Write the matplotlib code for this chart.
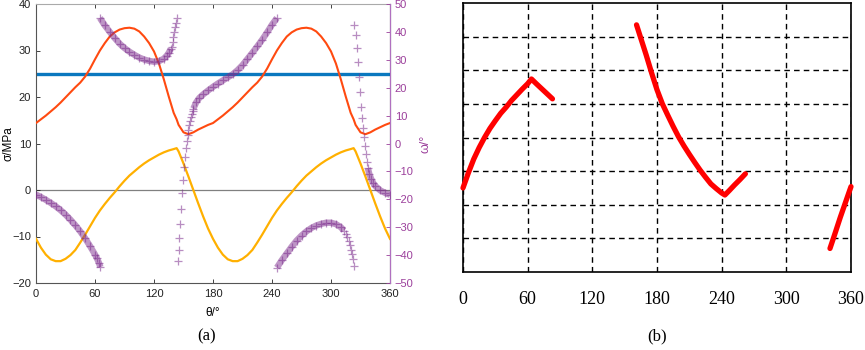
import numpy as np
import matplotlib
matplotlib.use("Agg")
import matplotlib.pyplot as plt

# ---- panel (a) data ----
theta_sig = (list(range(0, 141, 5)) + [143] + list(range(145, 321, 5)) + [323]
             + list(range(325, 361, 5)))

sig_half1 = [14.4, 15.2, 16.0, 16.9, 17.8, 18.8, 19.9, 21.0, 22.1, 23.1, 24.4, 26.1, 28.1,
             30.0, 31.6, 33.0, 33.9, 34.5, 34.8, 34.9, 34.7, 34.1, 33.0, 31.6, 29.8, 27.2,
             23.8, 20.1, 16.6]
sig_kink1 = [15.2]
sig_tail1 = [14.0, 12.4, 12.0, 12.4, 13.0, 13.5, 14.0, 14.4]
sigma1 = sig_half1 + sig_kink1 + sig_tail1 + sig_half1[1:] + sig_kink1 + sig_tail1

sig_half3 = [-10.5, -12.4, -13.9, -14.9, -15.3, -15.3, -14.8, -14.0, -12.9, -11.3, -9.6,
             -7.8, -6.0, -4.4, -3.0, -1.7, -0.5, 0.8, 2.0, 3.1, 4.0, 4.9, 5.7, 6.4, 7.0,
             7.6, 8.1, 8.5, 8.8]
sig_kink3 = [9.0]
sig_tail3 = [8.3, 5.7, 2.9, 0.0, -2.9, -5.7, -8.3, -10.5]
sigma3 = sig_half3 + sig_kink3 + sig_tail3 + sig_half3[1:] + sig_kink3 + sig_tail3

strength = 25.0

# omega segments: dense parts (band) and sparse parts (single markers)
om1_t = [0, 5, 10, 15, 20, 25, 30, 35, 40, 45, 50, 55, 60, 62, 64, 65.5]
om1_v = [-18.3, -19.2, -20.2, -21.3, -22.5, -23.9, -25.5, -27.3, -29.3, -31.5, -34.0,
         -36.8, -39.8, -41.2, -42.8, -44.3]

om2_t = [65, 70, 75, 80, 85, 90, 95, 100, 105, 110, 115, 120, 125, 130, 133, 135, 137]
om2_v = [45.0, 42.3, 40.0, 37.8, 35.8, 34.2, 32.9, 31.8, 30.8, 30.1, 29.6, 29.3, 29.5,
         30.4, 31.5, 32.5, 33.9]
om2s_t = [138, 139, 139.7, 140.7, 141.4, 142, 143]
om2s_v = [34.7, 36.5, 38.3, 40.1, 41.9, 43.3, 44.9]

om3s_t = [144.5, 145.1, 145.8, 146.5, 147.4, 148.4, 149.4, 150.4, 151.3, 152.3, 153.2,
          154.1, 155.0, 155.9, 156.8, 157.7, 158.6, 159.5]
om3s_v = [-42.1, -38.2, -34.0, -29.0, -23.6, -17.9, -13.1, -8.3, -4.7, -1.6, 0.8, 3.0,
          5.0, 6.6, 8.1, 9.5, 10.7, 11.8]
om3_t = [160, 163, 166, 170, 175, 180, 185, 190, 195, 200, 205, 210, 215, 220, 225, 230,
         235, 240, 245]
om3_v = [12.5, 14.8, 16.3, 17.6, 19.0, 20.3, 21.5, 22.6, 23.7, 24.8, 26.3, 28.1, 30.3,
         32.5, 34.8, 37.2, 39.8, 42.6, 45.0]

om4_t = [245, 250, 255, 260, 265, 270, 275, 280, 285, 290, 295, 300, 305, 310, 313]
om4_v = [-44.5, -41.8, -39.4, -37.0, -34.8, -33.0, -31.5, -30.3, -29.4, -28.8, -28.4,
         -28.4, -28.9, -30.0, -31.2]
om4s_t = [315, 316.5, 318, 319.3, 320.5, 321.5, 322.3, 323.0]
om4s_v = [-32.4, -33.6, -35.0, -36.4, -38.0, -39.6, -41.4, -43.8]

om5s_t = [323.7, 325.1, 326.1, 327.5, 328.5, 329.5, 330.5, 331.2, 332.2, 333.2, 334.2,
          335.2, 336.3]
om5s_v = [42.5, 38.9, 34.1, 29.2, 23.7, 18.5, 13.2, 9.0, 5.4, 2.4, -1.0, -3.8, -6.5]
om5_t = [337.5, 339, 341, 343, 345, 350, 355, 360]
om5_v = [-8.8, -11.0, -12.8, -14.2, -15.2, -16.8, -17.7, -18.4]

# ---- panel (b) data ----
b1_t = [0, 5, 10, 15, 20, 25, 30, 35, 40, 45, 50, 55, 60, 63.5, 68, 73, 78, 83]
b1_v = [2.5, 2.95, 3.36, 3.7, 4.0, 4.27, 4.5, 4.72, 4.9, 5.1, 5.27, 5.44, 5.6, 5.74,
        5.6, 5.45, 5.3, 5.15]
b2_t = [161, 165, 170, 175, 180, 185, 190, 195, 200, 205, 210, 215, 220, 225, 230, 235,
        240, 243, 247, 252, 257, 262]
b2_v = [7.35, 6.95, 6.45, 5.92, 5.42, 5.0, 4.66, 4.33, 4.02, 3.75, 3.5, 3.26, 3.03, 2.82,
        2.62, 2.48, 2.35, 2.29, 2.42, 2.59, 2.75, 2.92]
b3_t = [340.5, 345, 350, 355, 360]
b3_v = [0.7, 1.13, 1.62, 2.08, 2.54]

x_ticks = [0, 60, 120, 180, 240, 300, 360]

RED = "#ff4a10"
AMBER = "#ffb000"
BLUE = "#0a78bf"
PURPLE = "#7e2f8e"
PURPLE_AX = "#b070c0"

plt.rcParams['font.family'] = ['Liberation Sans', 'DejaVu Sans']

fig = plt.figure(figsize=(8.65, 3.5), dpi=100)

# ---------------- (a) ----------------
ax = fig.add_axes([36 / 865, 67 / 350, 354 / 865, 279 / 350])
ax.plot(theta_sig, sigma1, color=RED, lw=1.5, zorder=3)
ax.plot(theta_sig, sigma3, color=AMBER, lw=1.6, zorder=3)
ax.axhline(strength, color=BLUE, lw=2.4, zorder=2)
ax.axhline(0, color="#808080", lw=0.9, zorder=1)
ax.set_xlim(0, 360)
ax.set_ylim(-20, 40)
ax.set_xticks(x_ticks)
ax.set_yticks(range(-20, 41, 10))
ax.tick_params(direction="in", length=3, labelsize=8, top=True, colors="#222222",
               width=0.6)
ax.tick_params(axis="x", pad=4)
ax.set_xlabel("θ/°", fontsize=8.5, labelpad=6)
ax.set_ylabel("σ/MPa", fontsize=8.5)
ax.yaxis.set_label_coords(-0.062, 0.5)
for s in ["left", "bottom", "top"]:
    ax.spines[s].set_color("#555555")
    ax.spines[s].set_linewidth(0.8)
ax.spines["top"].set_color("#aaaaaa")

ax2 = ax.twinx()
band_kw = dict(color=PURPLE, lw=4.6, alpha=0.5, solid_capstyle="butt", zorder=4)
mark_kw = dict(color=PURPLE, marker="+", ms=6, mew=0.9, ls="none", alpha=0.55, zorder=5)
for t, v in [(om1_t, om1_v), (om2_t, om2_v), (om3_t, om3_v), (om4_t, om4_v), (om5_t, om5_v)]:
    ax2.plot(t, v, **band_kw)
    ax2.plot(t, v, **mark_kw)
for t, v in [(om2s_t, om2s_v), (om3s_t, om3s_v), (om4s_t, om4s_v), (om5s_t, om5s_v)]:
    ax2.plot(t, v, **mark_kw)
ax2.set_ylim(-50, 50)
ax2.set_yticks(range(-50, 51, 10))
ax2.tick_params(direction="in", length=3, labelsize=8, colors="#9b3f9b", width=0.6)
ax2.spines["right"].set_color(PURPLE_AX)
ax2.spines["right"].set_linewidth(0.8)
for s in ["left", "bottom", "top"]:
    ax2.spines[s].set_visible(False)
ax2.set_ylabel("ω/°", fontsize=9, color="#9b3f9b", labelpad=4)

# ---------------- (b) ----------------
bx = fig.add_axes([463 / 865, 78 / 350, 388 / 865, 269 / 350])
for t, v in [(b1_t, b1_v), (b2_t, b2_v), (b3_t, b3_v)]:
    bx.plot(t, v, color="#ff0000", lw=3.8, solid_capstyle="round", clip_on=False, zorder=3)
bx.set_xlim(0, 360)
bx.set_ylim(0, 8)
bx.set_xticks(x_ticks)
bx.set_yticks(range(1, 8))
bx.set_yticklabels([])
bx.grid(True, color="black", lw=1.0, ls=(0, (4, 3)))
bx.tick_params(length=0, pad=14, labelsize=13)
for lab in bx.get_xticklabels():
    lab.set_family("Liberation Serif")
for s in bx.spines.values():
    s.set_linewidth(1.2)

fig.text(207 / 865, 1 - 336 / 350, "(a)", ha="center", va="center", fontsize=12,
         family="Liberation Serif")
fig.text(657 / 865, 1 - 336 / 350, "(b)", ha="center", va="center", fontsize=12,
         family="Liberation Serif")

fig.savefig("out.png", dpi=100)
